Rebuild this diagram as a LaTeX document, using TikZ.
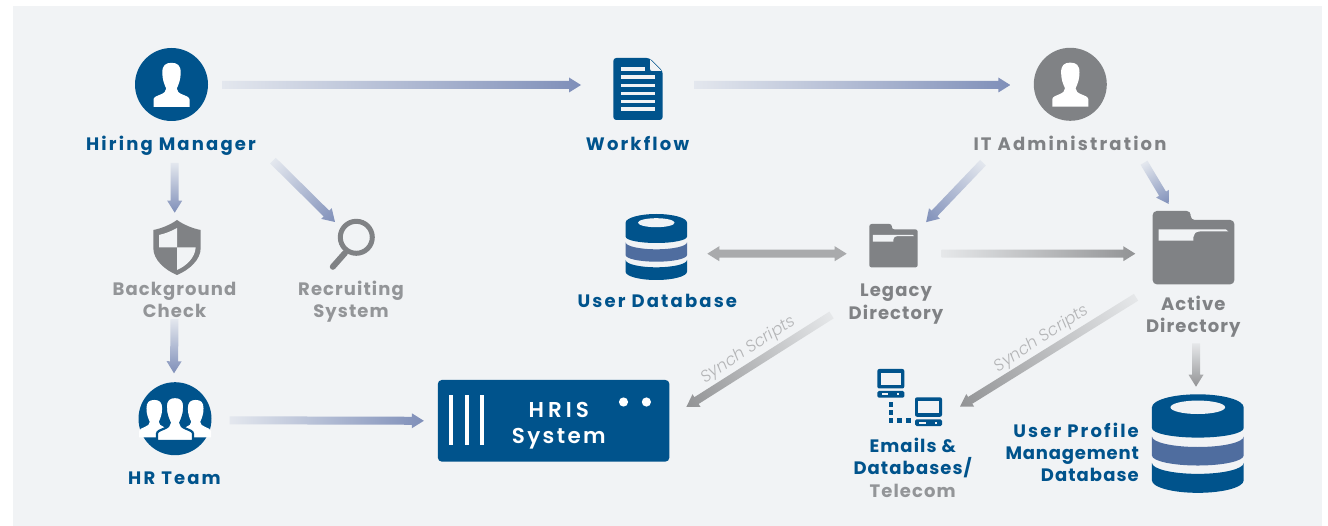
\documentclass[tikz,border=0pt]{standalone}
\usepackage{fontspec}
\usetikzlibrary{calc}
\newfontfamily\labfont[LetterSpace=12]{Poppins Bold}
\newfontfamily\multifont[LetterSpace=6]{Poppins Bold}
\newfontfamily\hrisfont[LetterSpace=11]{Poppins SemiBold}
\newfontfamily\synchfont{Poppins Light Italic}
\definecolor{panel}{HTML}{F1F3F5}
\definecolor{navy}{HTML}{00538C}
\definecolor{midband}{HTML}{4F6D9F}
\definecolor{slate}{HTML}{808285}
\definecolor{soft}{HTML}{939598}
\definecolor{flowblue}{HTML}{7F8FB9}
\definecolor{flowgrey}{HTML}{929395}
\definecolor{twoway}{HTML}{A9AAAC}
\definecolor{synch}{HTML}{B4B5B7}
\tikzset{
  lab/.style={font=\labfont\fontsize{18}{22.5}\selectfont,align=center,inner sep=0pt},
  multilab/.style={font=\multifont\fontsize{18}{22.5}\selectfont,align=center,inner sep=0pt},
  navylab/.style={lab,text=navy},
  greylab/.style={lab,text=slate},
  navymulti/.style={multilab,text=navy},
  greymulti/.style={multilab,text=slate},
  softmulti/.style={multilab,text=soft},
  synchlab/.style={font=\synchfont\fontsize{16.5}{18}\selectfont,text=synch,inner sep=0pt},
  iconbox/.style={rectangle,inner sep=0pt,outer sep=0pt},
  avatar/.style={circle,minimum size=73pt,inner sep=0pt,outer sep=0pt},
}
\newcommand{\personpath}{(-18,22.3) -- (-18,15) .. controls (-18,12.5) and (-14.5,11.5) .. (-11,10) .. controls (-7.5,8.5) and (-5.3,7) .. (-5.3,4) .. controls (-7.5,-1) and (-9.2,-5) .. (-9.2,-12) .. controls (-9.2,-19) and (-6,-21.7) .. (0,-21.7) .. controls (6,-21.7) and (9.2,-19) .. (9.2,-12) .. controls (9.2,-5) and (7.5,-1) .. (5.3,4) .. controls (5.3,7) and (7.5,8.5) .. (11,10) .. controls (14.5,11.5) and (18,12.5) .. (18,15) -- (18,22.3) -- cycle}
% gradient arrow between two named coordinates
\newcommand{\flowarrow}[3]{%
  \pgfpointdiff{\pgfpointanchor{#1}{center}}{\pgfpointanchor{#2}{center}}%
  \pgfgetlastxy{\dxx}{\dyy}%
  \pgfmathsetmacro\arang{atan2(\dyy,\dxx)}%
  \pgfmathsetmacro\arlen{veclen(\dxx,\dyy)}%
  \pgfmathsetmacro\arneck{\arlen-12}%
  \shade[transform canvas={shift={(#1)},rotate=\arang},left color=#3!12!panel,middle color=#3!90!panel,right color=#3]
    (0,-4) -- (\arneck,-4) -- (\arneck,-7.5) -- (\arlen,0) -- (\arneck,7.5) -- (\arneck,4) -- (0,4) -- cycle;%
}
% database, drawn from the top centre
\newcommand{\dbicon}[3]{%
  \begin{scope}[shift={(#1,#2)},x=#3pt,y=-#3pt]
    \fill[navy] (-30.7,8.7) arc[start angle=180,end angle=360,x radius=30.7,y radius=8.7] -- (30.7,22.7) arc[start angle=0,end angle=180,x radius=30.7,y radius=6.3] -- cycle;
    \fill[panel] (0,8.7) ellipse[x radius=18.3,y radius=4.5];
    \fill[midband] (-30.7,28.3) arc[start angle=180,end angle=0,x radius=30.7,y radius=7] -- (30.7,41) arc[start angle=0,end angle=180,x radius=30.7,y radius=6.7] -- cycle;
    \fill[navy] (-30.7,46) arc[start angle=180,end angle=0,x radius=30.7,y radius=7.3] -- (30.7,57.7) arc[start angle=0,end angle=180,x radius=30.7,y radius=8.3] -- cycle;
  \end{scope}}
% folder, drawn from the top left corner
\newcommand{\foldericon}[3]{%
  \begin{scope}[shift={(#1,#2)},x=#3pt,y=-#3pt]
    \fill[slate,rounded corners=#3*4pt] (0,73.3) -- (0,0) -- (38,0) -- (38,9) -- (81.6,9) -- (81.6,73.3) -- cycle;
    \fill[panel] (6,18.3) -- (73,18.3) -- (75.7,20.5) -- (47,20.5) .. controls (43,20.5) and (40.7,23) .. (40.7,26) -- (40.7,29.7) -- (6,29.7) -- cycle;
  \end{scope}}
% computer, drawn from the top left corner
\newcommand{\pcicon}[2]{%
  \begin{scope}[shift={(#1,#2)}]
    \fill[navy,rounded corners=2pt] (0,0) rectangle (27,19.5);
    \fill[panel] (3.4,3.7) rectangle (23.6,16);
    \fill[navy,rounded corners=1.5pt] (0,22) rectangle (27,28.7);
    \fill[panel] (4.4,24.3) rectangle (11,26.3);
    \fill[panel] (20,24.3) rectangle (22,26.3);
  \end{scope}}
\begin{document}
\begin{tikzpicture}[x=1pt,y=-1pt]
\useasboundingbox (0,0) rectangle (1328,526);
\fill[white] (0,0) rectangle (1328,526);
\fill[panel] (13,6) rectangle (1322,526);

% ---- icons as named nodes
\node[avatar,fill=navy] (hm) at (171.5,84.5) {};
\fill[white,shift={(hm)}] \personpath;
\node[avatar,fill=slate] (it) at (1070.3,84.3) {};
\fill[white,shift={(it)}] \personpath;

\node[iconbox,minimum width=49.4pt,minimum height=62pt] (wf) at (638,89) {};
\fill[navy,rounded corners=3pt] (613.3,120) -- (613.3,58) -- (649.5,58) -- (662.7,71) -- (662.7,120) -- cycle;
\fill[panel] (650,59.5) -- (661.5,71) -- (652,71) .. controls (650.5,71) and (650,70) .. (650,68.5) -- cycle;
\fill[panel] (621,67.5) rectangle (645,71.3);
\foreach \yy in {75.5,83.7,91.7,99.7,107.5} \fill[panel] (621,\yy) rectangle (655,\yy+3.8);

\node[iconbox,minimum width=47.4pt,minimum height=55pt] (bg) at (177,247.5) {};
\fill[slate] (177,220) .. controls (170,225) and (161,228.5) .. (153.3,230) -- (153.3,248) .. controls (153.3,260) and (165,270) .. (177,275) .. controls (189,270) and (200.7,260) .. (200.7,248) -- (200.7,230) .. controls (193,228.5) and (184,225) .. (177,220) -- cycle;
\fill[panel] (177,228) .. controls (171,231.5) and (165,233.5) .. (159,235) -- (159,247.5) -- (177,247.5) -- cycle;
\fill[panel] (177,247.5) -- (195.7,247.5) .. controls (195,258) and (186,266) .. (177,270) -- cycle;

\node[iconbox,minimum width=44pt,minimum height=50pt] (rs) at (353,243) {};
\draw[slate,line width=5pt] (356.3,237.3) circle[radius=16];
\draw[slate,line width=6pt,line cap=round] (345,253) -- (332.8,266.8);

\node[avatar,fill=navy] (hr) at (175,418.7) {};
\fill[white,shift={(154.3,418.4)},x=.85pt,y=-.85pt] \personpath;
\fill[white,shift={(195.7,418.4)},x=.85pt,y=-.85pt] \personpath;
\filldraw[white,shift={(175,418.7)},x=1pt,y=-1pt,draw=navy,line width=2.2pt] \personpath;

\node[iconbox,fill=navy,rounded corners=4pt,minimum width=231.5pt,minimum height=81.7pt] (hris) at (553.6,420.8) {};
\foreach \xx in {449,465,480} \fill[white] (\xx,395) rectangle (\xx+4,445);
\fill[white] (623.5,402) circle[radius=4.6];
\fill[white] (646.4,402) circle[radius=4.6];

\node[iconbox,minimum width=61.4pt,minimum height=66pt] (udb) at (656.3,247) {};
\dbicon{656.3}{214}{1}
\node[iconbox,minimum width=48.4pt,minimum height=43.3pt] (ld) at (893.5,245.6) {};
\foldericon{869.3}{224}{0.593}
\node[iconbox,minimum width=81.6pt,minimum height=73.3pt] (ad) at (1193.5,247.6) {};
\foldericon{1152.7}{211}{1}
\node[iconbox,minimum width=64.4pt,minimum height=57pt] (em) at (909.5,397.5) {};
\pcicon{877.3}{369}
\pcicon{915}{397.3}
\foreach \yy in {401.7,410,418.3} \fill[navy] (888.7,\yy) rectangle (893.2,\yy+5);
\foreach \xx in {896.7,905.7} \fill[navy] (\xx,418.3) rectangle (\xx+5,423.3);
\node[iconbox,minimum width=91.7pt,minimum height=98.4pt] (updb) at (1197.8,443.5) {};
\dbicon{1197.8}{394.3}{1.493}

% ---- labels (multi-line nodes sit on the baseline of their last line)
\node[navylab,anchor=base] (hmL) at (171,150.7) {Hiring Manager};
\node[navylab,anchor=base] (wfL) at (637.5,150.7) {Workflow};
\node[greylab,anchor=base] (itL) at (1070,150.7) {IT Administration};
\node[softmulti,anchor=base] (bgL) at (174.5,318) {Background\\Check};
\node[softmulti,anchor=base] (rsL) at (351,318) {Recruiting\\System};
\node[navylab,anchor=base] (hrL) at (174.5,484) {HR Team};
\node[navylab,anchor=base] (udbL) at (657.3,308) {User Database};
\node[greymulti,anchor=base] (ldL) at (896,319.5) {Legacy\\Directory};
\node[greymulti,anchor=base] (adL) at (1193.3,333) {Active\\Directory};
\node[navymulti,anchor=base] (emL) at (912.7,497) {Emails \&\\Databases/\\\textcolor{soft}{Telecom}};
\node[navymulti,anchor=base east,align=right] (updbL) at (1139,481) {{\addfontfeature{LetterSpace=12}User Profile}\\[-.7pt]{\addfontfeature{LetterSpace=4.5}Management}\\[-.7pt]{\addfontfeature{LetterSpace=6}Database}};
\node[lab,text=white,anchor=base,font=\hrisfont\fontsize{21.5}{26}\selectfont] (hrisL) at (558.8,443.7) {{\addfontfeature{LetterSpace=19}HRIS}\\System};

% ---- connector ends
\coordinate (a1) at ($(hm)+(50.5,0.5)$);  \coordinate (b1) at ($(wf)+(-57,-4)$);
\coordinate (a2) at ($(wf)+(56,-4)$);     \coordinate (b2) at ($(it)+(-60,0.7)$);
\coordinate (a3) at ($(hm)+(3.2,78.5)$);  \coordinate (b3) at ($(bg)+(-2.3,-34.8)$);
\coordinate (a4) at ($(hm)+(101.5,76.2)$);\coordinate (b4) at ($(rs)+(-18,-21)$);
\coordinate (a5) at ($(bgL)+(0,19)$);     \coordinate (b5) at ($(hr)+(-1,-45.4)$);
\coordinate (a6) at ($(hr)+(54.7,1.6)$);  \coordinate (b6) at ($(hris.west)+(-14,0)$);
\coordinate (a7) at ($(it)+(-87.3,78.4)$);\coordinate (b7) at ($(ld)+(32.5,-23.3)$);
\coordinate (a8) at ($(it)+(73.7,78.4)$); \coordinate (b8) at ($(ad)+(-24.8,-43.6)$);
\coordinate (a9) at ($(ld.east)+(24,8.1)$);\coordinate (b9) at ($(ad.west)+(-17.4,6.1)$);
\coordinate (a10) at ($(ld)+(-62,69.4)$); \coordinate (b10) at ($(hris.east)+(17,-13.8)$);
\coordinate (a11) at ($(ad)+(-57.5,49.7)$);\coordinate (b11) at ($(em)+(50.5,9.2)$);
\coordinate (a12) at ($(ad)+(2.5,95.7)$); \coordinate (b12) at ($(updb)+(-1.8,-56.8)$);
\coordinate (c1) at ($(udb)+(51,6.7)$);   \coordinate (c2) at ($(ld)+(-46.8,8.1)$);

% ---- connectors
\flowarrow{a1}{b1}{flowblue}
\flowarrow{a2}{b2}{flowblue}
\flowarrow{a3}{b3}{flowblue}
\flowarrow{a4}{b4}{flowblue}
\flowarrow{a5}{b5}{flowblue}
\flowarrow{a6}{b6}{flowblue}
\flowarrow{a7}{b7}{flowblue}
\flowarrow{a8}{b8}{flowblue}
\flowarrow{a9}{b9}{flowgrey}
\flowarrow{a10}{b10}{flowgrey}
\flowarrow{a11}{b11}{flowgrey}
\flowarrow{a12}{b12}{flowgrey}
\fill[twoway] (c1) -- ++(12,-7.5) -- ++(0,3.5) -- ($(c2)+(-12,-4)$) -- ++(0,-3.5) -- (c2) -- ++(-12,7.5) -- ++(0,-3.5) -- ($(c1)+(12,4)$) -- ++(0,3.5) -- cycle;

\node[synchlab,rotate=33,anchor=center] (s1) at (748.5,350) {Synch Scripts};
\node[synchlab,rotate=33,anchor=center] (s2) at (1041.7,339) {Synch Scripts};
\end{tikzpicture}
\end{document}
